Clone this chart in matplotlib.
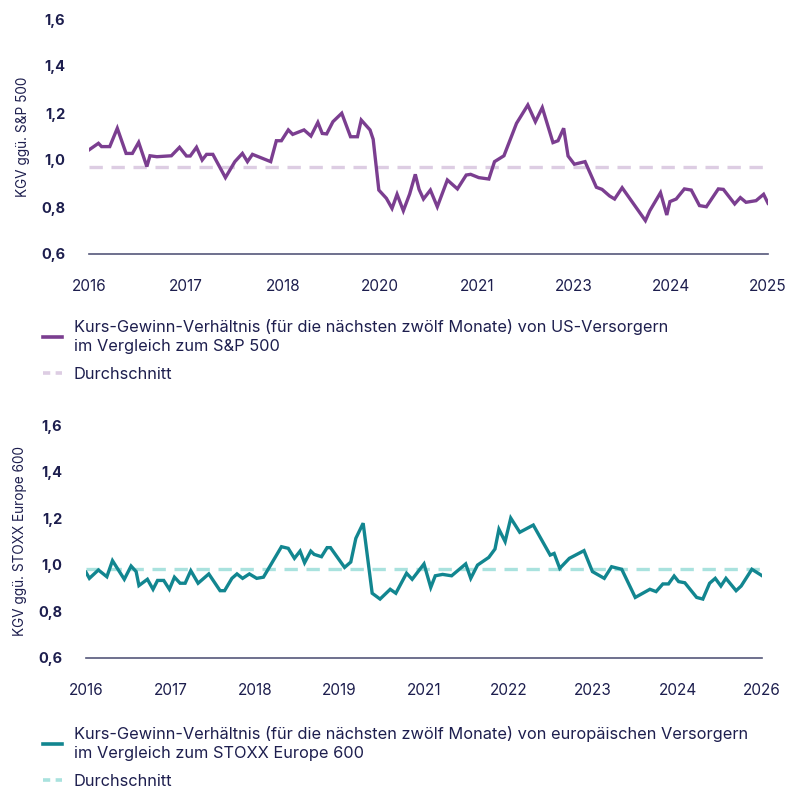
import matplotlib
matplotlib.use('Agg')
import matplotlib.pyplot as plt
from matplotlib.lines import Line2D

# US utilities vs S&P 500 (months since Jan 2016, forward P/E ratio)
us_month = [0, 1.5, 2.0, 3.3, 4.5, 5.9, 6.9, 7.9, 9.2, 9.7, 10.8, 13.1, 14.4, 15.5, 16.1,
            17.1, 18.0, 18.7, 19.7, 21.7, 23.2, 24.4, 25.2, 26.0, 28.9, 29.8, 30.6, 31.7,
            32.4, 34.2, 35.3, 36.4, 37.1, 37.8, 38.8, 40.2, 41.6, 42.7, 43.3, 44.7, 45.2,
            46.1, 47.3, 48.2, 49.0, 50.0, 51.0, 51.9, 52.5, 53.2, 54.3, 55.4, 57.0, 58.6,
            60.0, 60.7, 62.0, 63.6, 64.5, 66.0, 68.0, 69.8, 71.0, 72.1, 73.8, 74.6, 75.5,
            76.2, 77.2, 78.9, 80.7, 81.6, 82.8, 83.6, 84.8, 88.5, 89.2, 90.9, 91.9, 92.4,
            93.4, 94.7, 95.8, 97.1, 98.2, 100.1, 100.9, 102.7, 103.6, 104.5, 106.1, 107.3, 108.0]
us_value = [1.043, 1.071, 1.057, 1.057, 1.135, 1.028, 1.028, 1.075, 0.972, 1.018, 1.014,
            1.018, 1.054, 1.017, 1.017, 1.054, 1.000, 1.024, 1.024, 0.925, 0.993, 1.028,
            0.993, 1.024, 0.993, 1.082, 1.082, 1.128, 1.109, 1.128, 1.102, 1.160, 1.113,
            1.111, 1.163, 1.199, 1.099, 1.099, 1.170, 1.128, 1.088, 0.872, 0.837, 0.794,
            0.854, 0.784, 0.855, 0.939, 0.875, 0.834, 0.872, 0.801, 0.915, 0.877, 0.936,
            0.939, 0.925, 0.919, 0.993, 1.018, 1.156, 1.234, 1.163, 1.223, 1.074, 1.082,
            1.135, 1.017, 0.982, 0.993, 0.884, 0.875, 0.847, 0.834, 0.882, 0.742, 0.784,
            0.861, 0.766, 0.823, 0.834, 0.877, 0.872, 0.806, 0.801, 0.877, 0.875, 0.813,
            0.840, 0.820, 0.827, 0.854, 0.816]
us_avg = 0.97
us_ticks = ['2016', '2017', '2018', '2020', '2021', '2023', '2024', '2025']

# European utilities vs STOXX Europe 600
eu_month = [0, 0.6, 2.2, 3.7, 4.7, 6.8, 8.0, 8.9, 9.4, 10.9, 11.9, 12.7, 13.8, 14.8, 15.7,
            16.7, 17.6, 18.6, 19.9, 21.8, 23.8, 24.6, 25.9, 26.8, 27.8, 29.0, 30.3, 31.5,
            34.7, 35.9, 37.0, 38.0, 38.8, 39.9, 40.5, 41.8, 42.8, 43.4, 45.9, 47.0, 47.9,
            49.2, 50.8, 52.2, 54.0, 55.0, 56.9, 57.9, 60.0, 61.2, 62.0, 63.3, 64.9, 67.4,
            68.3, 69.5, 71.5, 72.6, 73.3, 74.4, 75.4, 77.0, 79.4, 82.4, 83.1, 84.1, 85.8,
            88.4, 89.9, 92.0, 93.3, 95.1, 97.5, 100.1, 101.2, 102.4, 103.4, 104.4, 105.2,
            106.3, 108.4, 109.5, 110.7, 111.7, 112.7, 113.6, 115.4, 116.3, 118.2, 119.9]
eu_value = [0.967, 0.941, 0.977, 0.948, 1.017, 0.937, 0.994, 0.970, 0.910, 0.937, 0.894,
            0.932, 0.932, 0.894, 0.946, 0.920, 0.920, 0.974, 0.920, 0.960, 0.888, 0.888,
            0.941, 0.960, 0.941, 0.960, 0.941, 0.946, 1.077, 1.070, 1.027, 1.058, 1.008,
            1.058, 1.044, 1.034, 1.073, 1.073, 0.988, 1.011, 1.113, 1.178, 0.877, 0.852,
            0.894, 0.877, 0.963, 0.937, 1.003, 0.902, 0.952, 0.958, 0.952, 1.003, 0.941,
            0.998, 1.031, 1.067, 1.152, 1.099, 1.200, 1.139, 1.170, 1.041, 1.048, 0.984,
            1.027, 1.060, 0.970, 0.941, 0.991, 0.980, 0.859, 0.894, 0.884, 0.917, 0.917,
            0.951, 0.927, 0.922, 0.859, 0.852, 0.920, 0.941, 0.908, 0.941, 0.888, 0.908,
            0.980, 0.954]
eu_avg = 0.98
eu_ticks = ['2016', '2017', '2018', '2019', '2021', '2022', '2023', '2024', '2026']

y_ticks = [0.6, 0.8, 1.0, 1.2, 1.4, 1.6]

NAVY = '#1d1e4e'
plt.rcParams['font.family'] = ['Inter', 'DejaVu Sans']


def panel(fig, rect, x, y, avg, n_months, ticks, color, avg_color, ylabel, series_label, legend_y):
    ax = fig.add_axes(rect)
    ax.plot(x, y, color=color, lw=2.4, solid_joinstyle='miter', zorder=3)
    ax.axhline(avg, color=avg_color, lw=2.4, dashes=(4, 2.6), zorder=2)
    ax.axhline(0.6, color='#55577a', lw=1.2, clip_on=False, zorder=1)
    ax.set_xlim(0, n_months)
    ax.set_ylim(0.6, 1.6)
    for s in ax.spines.values():
        s.set_visible(False)
    ax.set_yticks(y_ticks)
    ax.set_yticklabels([('%.1f' % v).replace('.', ',') for v in y_ticks],
                       fontweight='bold', fontsize=10.5, color=NAVY)
    step = n_months / (len(ticks) - 1)
    ax.set_xticks([i * step for i in range(len(ticks))])
    ax.set_xticklabels(ticks, fontsize=11, color=NAVY)
    ax.tick_params(axis='both', length=0)
    ax.tick_params(axis='y', pad=17)
    ax.tick_params(axis='x', pad=18)
    ax.set_ylabel(ylabel, fontsize=9.8, color=NAVY, labelpad=8)

    handles = [Line2D([], [], color=color, lw=2.6),
               Line2D([], [], color=avg_color, lw=2.6, dashes=(2.0, 1.5))]
    leg = fig.legend(handles, [series_label, 'Durchschnitt'], loc='upper left',
                     bbox_to_anchor=(0.054, legend_y), frameon=False, fontsize=11.8,
                     handlelength=1.15, handletextpad=0.7, labelspacing=0.8,
                     borderpad=0, borderaxespad=0)
    for t in leg.get_texts():
        t.set_color(NAVY)
        t.set_linespacing(1.3)
    return ax


fig = plt.figure(figsize=(8, 8), dpi=100)

panel(fig, [89 / 800, 1 - 254 / 800, 679 / 800, 235 / 800], us_month, us_value, us_avg, 108,
      us_ticks, '#7b3e90', '#ddcde3', 'KGV ggü. S&P 500',
      'Kurs-Gewinn-Verhältnis (für die nächsten zwölf Monate) von US-Versorgern\n'
      'im Vergleich zum S&P 500', 1 - 319 / 800)

panel(fig, [86 / 800, 1 - 657.7 / 800, 676 / 800, 232.7 / 800], eu_month, eu_value, eu_avg, 120,
      eu_ticks, '#128690', '#a9e2de', 'KGV ggü. STOXX Europe 600',
      'Kurs-Gewinn-Verhältnis (für die nächsten zwölf Monate) von europäischen Versorgern\n'
      'im Vergleich zum STOXX Europe 600', 1 - 726 / 800)

fig.savefig('out.png', dpi=100, facecolor='white')
